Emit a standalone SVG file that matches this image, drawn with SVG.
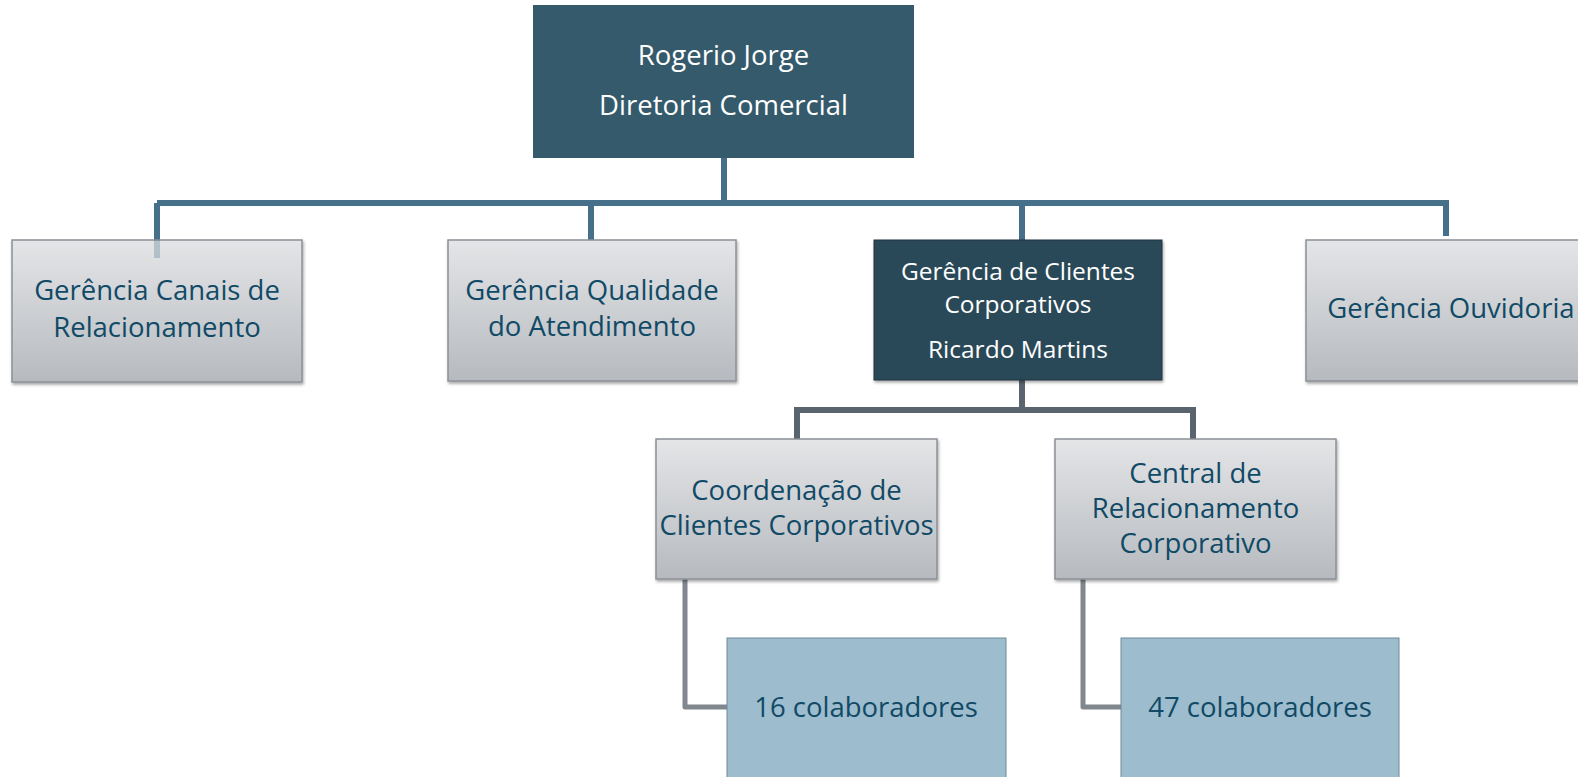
<svg xmlns="http://www.w3.org/2000/svg" width="1578" height="777" viewBox="0 0 1578 777">
<defs>
<linearGradient id="gray" x1="0" y1="0" x2="0" y2="1">
<stop offset="0" stop-color="#e4e5e7"/>
<stop offset="1" stop-color="#b6babf"/>
</linearGradient>
<filter id="sh" x="-10%" y="-10%" width="120%" height="130%">
<feDropShadow dx="1" dy="2" stdDeviation="1.5" flood-color="#000" flood-opacity="0.35"/>
</filter>
</defs>
<style>
text{font-family:"Open Sans","Noto Sans",sans-serif;text-anchor:middle}
.g{fill:url(#gray);stroke:#8c9096;stroke-width:1.5;filter:url(#sh)}
.gt{fill:#104a66;font-size:27.5px}
.wt{fill:#ffffff;font-size:27.5px}
.ct{fill:#ffffff;font-size:24.5px}
.lb{fill:#9dbccd;stroke:#6f8a99;stroke-width:1}
.c1{fill:none;stroke:#46708a;stroke-width:6}
.c2{fill:none;stroke:#59646e;stroke-width:6}
.c3{fill:none;stroke:#80878e;stroke-width:5;stroke-linejoin:round}
</style>
<g id="connectors">
<path class="c1" d="M724 158V203M157 203H1449M157 203V240M591 203V240M1022 203V240M1446 203V236"/>
<path class="c2" d="M1022 380V410M794 410H1196M797 410V439M1193 410V439"/>
<path class="c3" d="M685 579V707H727M1083 579V707H1121"/>
</g>
<g id="n-diretoria">
<rect x="533" y="5" width="381" height="153" fill="#345a6b"/>
<text class="wt" x="723.5" y="65">Rogerio Jorge</text>
<text class="wt" x="723.5" y="115">Diretoria Comercial</text>
</g>
<g id="n-canais">
<rect class="g" x="12" y="240" width="290" height="142"/>
<rect x="154" y="240" width="6" height="18" fill="#46708a" opacity="0.3"/>
<text class="gt" x="157" y="300">Gerência Canais de</text>
<text class="gt" x="157" y="337">Relacionamento</text>
</g>
<g id="n-qualidade">
<rect class="g" x="448" y="240" width="288" height="141"/>
<text class="gt" x="592" y="300">Gerência Qualidade</text>
<text class="gt" x="592" y="336">do Atendimento</text>
</g>
<g id="n-clientes">
<rect x="874" y="240" width="288" height="140" fill="#2c4858" stroke="#1f3440" stroke-width="1" filter="url(#sh)"/>
<text class="ct" x="1018" y="280">Gerência de Clientes</text>
<text class="ct" x="1018" y="313">Corporativos</text>
<text class="ct" x="1018" y="358">Ricardo Martins</text>
</g>
<g id="n-ouvidoria">
<rect class="g" x="1306" y="240" width="290" height="141"/>
<text class="gt" x="1451" y="318">Gerência Ouvidoria</text>
</g>
<g id="n-coordenacao">
<rect class="g" x="656" y="439" width="281" height="140"/>
<text class="gt" x="796.5" y="500">Coordenação de</text>
<text class="gt" x="796.5" y="535">Clientes Corporativos</text>
</g>
<g id="n-central">
<rect class="g" x="1055" y="439" width="281" height="140"/>
<text class="gt" x="1195.5" y="483">Central de</text>
<text class="gt" x="1195.5" y="518">Relacionamento</text>
<text class="gt" x="1195.5" y="553">Corporativo</text>
</g>
<g id="n-col16">
<rect class="lb" x="727" y="638" width="279" height="145"/>
<text class="gt" x="866" y="717">16 colaboradores</text>
</g>
<g id="n-col47">
<rect class="lb" x="1121" y="638" width="278" height="145"/>
<text class="gt" x="1260" y="717">47 colaboradores</text>
</g>
</svg>
